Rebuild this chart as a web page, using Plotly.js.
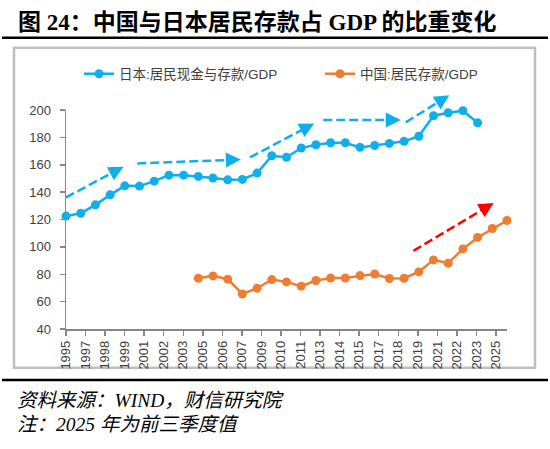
<!DOCTYPE html>
<html>
<head>
<meta charset="utf-8">
<script src="https://cdn.plot.ly/plotly-3.0.1.min.js"></script>
<style>
  html, body { margin: 0; padding: 0; background: #ffffff; }
  #chart { width: 550px; height: 449px; }
</style>
</head>
<body>
<div id="chart"></div>
<script>
// ---------- data ----------
const japanYears = [1995, 1996, 1997, 1998, 1999, 2000, 2001, 2002, 2003, 2004,
                    2005, 2006, 2007, 2008, 2009, 2010, 2011, 2012, 2013, 2014,
                    2015, 2016, 2017, 2018, 2019, 2020, 2021, 2022, 2023];
const japanValues = [122.5, 124.6, 130.7, 138.0, 144.6, 144.4, 148.0, 152.4, 152.4, 151.5,
                     150.3, 149.0, 149.3, 153.9, 166.6, 165.5, 172.2, 174.6, 176.1, 176.1,
                     172.7, 174.1, 175.6, 177.1, 180.8, 195.8, 198.0, 199.5, 190.7];
const chinaYears = [2004, 2005, 2006, 2007, 2008, 2009, 2010, 2011, 2012, 2013, 2014,
                    2015, 2016, 2017, 2018, 2019, 2020, 2021, 2022, 2023, 2024, 2025];
const chinaValues = [77.1, 78.8, 76.4, 65.6, 69.8, 76.1, 74.4, 71.3, 75.4, 77.3, 77.3,
                     79.0, 80.2, 76.9, 77.1, 81.7, 90.5, 88.1, 98.5, 106.9, 113.4, 119.3];
const xTickLabels = ['1995', '1997', '1998', '1999', '2001', '2002', '2003', '2005',
                     '2006', '2007', '2009', '2010', '2011', '2013', '2014', '2015',
                     '2017', '2018', '2019', '2021', '2022', '2023', '2025'];
const yTickValues = [40, 60, 80, 100, 120, 140, 160, 180, 200];
const seriesNames = ['日本:居民现金与存款/GDP', '中国:居民存款/GDP'];
const titleText = '图 24：中国与日本居民存款占 GDP 的比重变化';
const sourceText = '资料来源：WIND，财信研究院';
const noteText = '注：2025 年为前三季度值';

// trend arrows: [startYear, startValue, tipYear, tipValue]
const blueArrows = [
  [1995.0, 136.1, 1999.13, 159.8],
  [1999.85, 161.0, 2007.13, 163.9],
  [2007.52, 165.4, 2012.1, 191.4],
  [2012.5, 192.7, 2018.01, 192.7],
  [2018.11, 191.0, 2021.28, 212.2]
];
const redArrows = [
  [2018.63, 97.1, 2024.3, 133.4]
];

// ---------- layout geometry ----------
const W = 550, H = 449;
const M = { l: 66, r: 43, t: 110, b: 120 };
const PW = W - M.l - M.r, PH = H - M.t - M.b;
const xRange = [1995, 2025], yRange = [40, 200];
const tickStep = 1.3296;  // Excel date-axis label spacing (in years)
const xTickVals = xTickLabels.map((_, i) => xRange[0] + i * tickStep);

const px2x = px => (px - M.l) / PW;           // page px -> paper x
const py2y = py => (H - M.b - py) / PH;       // page px -> paper y
const dx2x = v => (v - xRange[0]) / (xRange[1] - xRange[0]);
const dy2y = v => (v - yRange[0]) / (yRange[1] - yRange[0]);

const BLUE = '#0EAFEC', ORANGE = '#ED7D31', RED = '#FF0000';
const SANS = 'Liberation Sans, Arial, "Noto Sans CJK SC", sans-serif';
const SERIF = 'Liberation Serif, "Times New Roman", "Noto Sans CJK SC", serif';

const shapes = [];
const annotations = [];

// frame around chart area
shapes.push({ type: 'rect', xref: 'paper', yref: 'paper', layer: 'below',
  x0: px2x(14), x1: px2x(535), y0: py2y(367.7), y1: py2y(47.7),
  line: { color: '#BFBFBF', width: 2.5 }, fillcolor: 'rgba(0,0,0,0)' });
// rules under title and above source
shapes.push({ type: 'line', xref: 'paper', yref: 'paper',
  x0: px2x(2), x1: px2x(548), y0: py2y(37.8), y1: py2y(37.8),
  line: { color: '#000000', width: 2.5 } });
shapes.push({ type: 'line', xref: 'paper', yref: 'paper',
  x0: px2x(2), x1: px2x(548), y0: py2y(380), y1: py2y(380),
  line: { color: '#000000', width: 2.5 } });

function addArrow(a, color) {
  const x0 = dx2x(a[0]), y0 = dy2y(a[1]), x1 = dx2x(a[2]), y1 = dy2y(a[3]);
  // pixel direction
  const ddx = (x1 - x0) * PW, ddy = (y1 - y0) * PH;
  const len = Math.sqrt(ddx * ddx + ddy * ddy);
  const ux = ddx / len, uy = ddy / len;
  const back = 10;
  shapes.push({ type: 'line', xref: 'paper', yref: 'paper',
    x0: x0, y0: y0, x1: x1 - ux * back / PW, y1: y1 - uy * back / PH,
    line: { color: color, width: 2.5, dash: '9px,4px' } });
  annotations.push({ xref: 'paper', yref: 'paper', x: x1 - ux * 3.5 / PW, y: y1 - uy * 3.5 / PH,
    ax: -ux * 14, ay: uy * 14, showarrow: true, arrowhead: 2, arrowsize: 1.2,
    arrowwidth: 2.5, arrowcolor: color, text: '' });
}
blueArrows.forEach(a => addArrow(a, BLUE));
redArrows.forEach(a => addArrow(a, RED));

// title
annotations.push({ xref: 'paper', yref: 'paper', x: px2x(16), y: py2y(22),
  xanchor: 'left', yanchor: 'middle', showarrow: false, text: '<b>' + titleText + '</b>',
  font: { family: SERIF, size: 23, color: '#000000' } });
// source and note
annotations.push({ xref: 'paper', yref: 'paper', x: px2x(15), y: py2y(400),
  xanchor: 'left', yanchor: 'middle', showarrow: false, text: '<i>' + sourceText + '</i>',
  font: { family: SERIF, size: 19.5, color: '#000000' } });
annotations.push({ xref: 'paper', yref: 'paper', x: px2x(15), y: py2y(424),
  xanchor: 'left', yanchor: 'middle', showarrow: false, text: '<i>' + noteText + '</i>',
  font: { family: SERIF, size: 19.5, color: '#000000' } });

const traces = [
  { type: 'scatter', mode: 'lines+markers', name: seriesNames[0], legend: 'legend',
    x: japanYears, y: japanValues, cliponaxis: false,
    line: { color: BLUE, width: 2.5 }, marker: { color: BLUE, size: 9 } },
  { type: 'scatter', mode: 'lines+markers', name: seriesNames[1], legend: 'legend2',
    x: chinaYears, y: chinaValues, cliponaxis: false,
    line: { color: ORANGE, width: 2.5 }, marker: { color: ORANGE, size: 9 } }
];

const legendStyle = (xpx) => ({ orientation: 'h', x: px2x(xpx), y: py2y(74),
  xanchor: 'left', yanchor: 'middle',
  font: { family: SANS, size: 13.5, color: '#404040' }, bgcolor: 'rgba(0,0,0,0)' });

const layout = {
  width: W, height: H,
  margin: M,
  paper_bgcolor: '#ffffff', plot_bgcolor: '#ffffff',
  showlegend: true,
  legend: legendStyle(79),
  legend2: legendStyle(320),
  xaxis: { range: xRange, tickmode: 'array', tickvals: xTickVals, ticktext: xTickLabels,
    tickangle: -90, ticks: 'outside', ticklen: 5, tickwidth: 1.5, tickcolor: '#868686',
    showline: true, linecolor: '#868686', linewidth: 1.5, showgrid: false, zeroline: false,
    tickfont: { family: SANS, size: 13, color: '#404040' }, fixedrange: true },
  yaxis: { range: yRange, tickmode: 'array', tickvals: yTickValues,
    ticks: 'outside', ticklen: 5, tickwidth: 1.5, tickcolor: '#868686',
    showline: true, linecolor: '#868686', linewidth: 1.5, showgrid: false, zeroline: false,
    tickfont: { family: SANS, size: 13, color: '#404040' }, ticklabelstandoff: 6, fixedrange: true },
  shapes: shapes,
  annotations: annotations
};

Plotly.newPlot('chart', traces, layout, { displayModeBar: false, staticPlot: true });
</script>
</body>
</html>
